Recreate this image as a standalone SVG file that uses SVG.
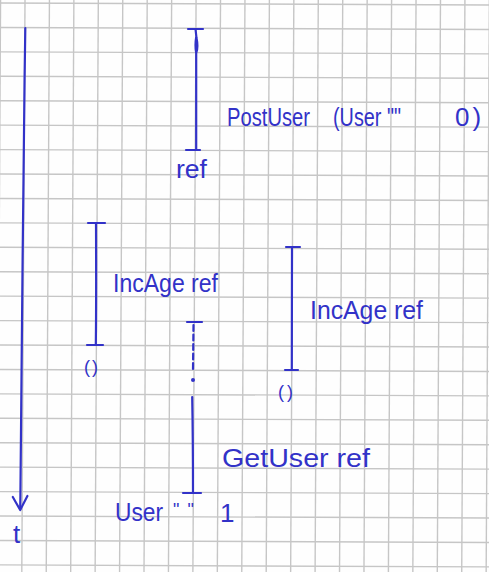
<svg xmlns="http://www.w3.org/2000/svg" width="489" height="572" viewBox="0 0 489 572">
  <style>
    .grid line { stroke: #c6c6c6; stroke-width: 1.4; }
    .ink { fill: none; stroke: #3232c8; stroke-width: 2.2; stroke-linecap: round; stroke-linejoin: round; }
    .lbl { fill: #3232c8; font-family: "Liberation Sans", Arial, sans-serif; font-size: 26px; }
    .sm { font-size: 18px; }
  </style>

  <rect width="489" height="572" fill="#fefefe"/>

  <!-- squared paper, slightly rotated -->
  <g class="grid" id="grid">
    <line x1="0.56" y1="0" x2="-2.64" y2="572"/>
    <line x1="25" y1="0" x2="21.8" y2="572"/>
    <line x1="49.44" y1="0" x2="46.24" y2="572"/>
    <line x1="73.88" y1="0" x2="70.68" y2="572"/>
    <line x1="98.32" y1="0" x2="95.12" y2="572"/>
    <line x1="122.76" y1="0" x2="119.56" y2="572"/>
    <line x1="147.2" y1="0" x2="144" y2="572"/>
    <line x1="171.64" y1="0" x2="168.44" y2="572"/>
    <line x1="196.08" y1="0" x2="192.88" y2="572"/>
    <line x1="220.52" y1="0" x2="217.32" y2="572"/>
    <line x1="244.96" y1="0" x2="241.76" y2="572"/>
    <line x1="269.4" y1="0" x2="266.2" y2="572"/>
    <line x1="293.84" y1="0" x2="290.64" y2="572"/>
    <line x1="318.28" y1="0" x2="315.08" y2="572"/>
    <line x1="342.72" y1="0" x2="339.52" y2="572"/>
    <line x1="367.16" y1="0" x2="363.96" y2="572"/>
    <line x1="391.6" y1="0" x2="388.4" y2="572"/>
    <line x1="416.04" y1="0" x2="412.84" y2="572"/>
    <line x1="440.48" y1="0" x2="437.28" y2="572"/>
    <line x1="464.92" y1="0" x2="461.72" y2="572"/>
    <line x1="489.36" y1="0" x2="486.16" y2="572"/>

    <line x1="0" y1="3" x2="489" y2="5"/>
    <line x1="0" y1="27.43" x2="489" y2="29.43"/>
    <line x1="0" y1="51.86" x2="489" y2="53.86"/>
    <line x1="0" y1="76.29" x2="489" y2="78.29"/>
    <line x1="0" y1="100.72" x2="489" y2="102.72"/>
    <line x1="0" y1="125.15" x2="489" y2="127.15"/>
    <line x1="0" y1="149.58" x2="489" y2="151.58"/>
    <line x1="0" y1="174.01" x2="489" y2="176.01"/>
    <line x1="0" y1="198.44" x2="489" y2="200.44"/>
    <line x1="0" y1="222.87" x2="489" y2="224.87"/>
    <line x1="0" y1="247.3" x2="489" y2="249.3"/>
    <line x1="0" y1="271.73" x2="489" y2="273.73"/>
    <line x1="0" y1="296.16" x2="489" y2="298.16"/>
    <line x1="0" y1="320.59" x2="489" y2="322.59"/>
    <line x1="0" y1="345.02" x2="489" y2="347.02"/>
    <line x1="0" y1="369.45" x2="489" y2="371.45"/>
    <line x1="0" y1="393.88" x2="489" y2="395.88"/>
    <line x1="0" y1="418.31" x2="489" y2="420.31"/>
    <line x1="0" y1="442.74" x2="489" y2="444.74"/>
    <line x1="0" y1="467.17" x2="489" y2="469.17"/>
    <line x1="0" y1="491.6" x2="489" y2="493.6"/>
    <line x1="0" y1="516.03" x2="489" y2="518.03"/>
    <line x1="0" y1="540.46" x2="489" y2="542.46"/>
    <line x1="0" y1="564.89" x2="489" y2="566.89"/>
  </g>

  <!-- time axis -->
  <g id="time-axis">
    <path class="ink" d="M25.3 28 C24.2 110 22.8 200 22.6 260 C22.2 330 21.6 420 20.2 509"/>
    <path class="ink" d="M12.8 497 L20.2 510 L27.4 496"/>
    <text class="lbl" x="13" y="543" font-size="30">t</text>
  </g>

  <!-- PostUser -->
  <g id="node-postuser">
    <path class="ink" d="M188 29 L203 29"/>
    <path class="ink" d="M195.5 29 L196.5 38 C197.8 44 197.4 50 196.2 53 C195.2 48 195.4 42 196.2 37 M196.2 53 C196.3 90 196.3 120 196.2 150"/>
    <path class="ink" d="M186 150 L200 150"/>
    <text class="lbl" x="176" y="178" textLength="31" lengthAdjust="spacingAndGlyphs">ref</text>
    <text class="lbl" x="227" y="126" textLength="83" lengthAdjust="spacingAndGlyphs">PostUser</text>
    <text class="lbl" x="333" y="126" textLength="68" lengthAdjust="spacingAndGlyphs">(User ""</text>
    <text class="lbl" x="455" y="126" letter-spacing="3">0)</text>
  </g>

  <!-- IncAge, left -->
  <g id="node-incage-left">
    <path class="ink" d="M88 223 L105 223"/>
    <path class="ink" d="M96 223 C96.2 270 96.3 310 95.8 345"/>
    <path class="ink" d="M87 345 L103 345"/>
    <text class="lbl" x="113" y="292" textLength="105" lengthAdjust="spacingAndGlyphs">IncAge ref</text>
    <text class="lbl sm" x="84" y="373" letter-spacing="2">()</text>
  </g>

  <!-- IncAge, right -->
  <g id="node-incage-right">
    <path class="ink" d="M286 247 L300 247"/>
    <path class="ink" d="M292 247 C292.3 300 292.2 340 291.8 370"/>
    <path class="ink" d="M285 370 L298 370"/>
    <text class="lbl" x="310" y="319" textLength="113" lengthAdjust="spacingAndGlyphs">IncAge ref</text>
    <text class="lbl sm" x="278" y="398" letter-spacing="3">()</text>
  </g>

  <!-- dashed continuation -->
  <g id="connectors">
    <path class="ink" d="M187 322 L202 322"/>
    <path class="ink" stroke-dasharray="6 3.5" d="M193.5 325 L193 369"/>
    <circle cx="193" cy="380" r="2" fill="#3232c8"/>
  </g>

  <!-- GetUser -->
  <g id="node-getuser">
    <path class="ink" d="M192.2 397 C192.8 430 193 460 193 493"/>
    <path class="ink" d="M183 493 L201 493"/>
    <text class="lbl" x="222" y="467" textLength="148" lengthAdjust="spacingAndGlyphs">GetUser ref</text>
    <text class="lbl" x="115" y="521" textLength="48" lengthAdjust="spacingAndGlyphs">User</text>
    <text class="lbl sm" x="173" y="516" letter-spacing="8">""</text>
    <text class="lbl" x="220" y="522">1</text>
  </g>
</svg>
